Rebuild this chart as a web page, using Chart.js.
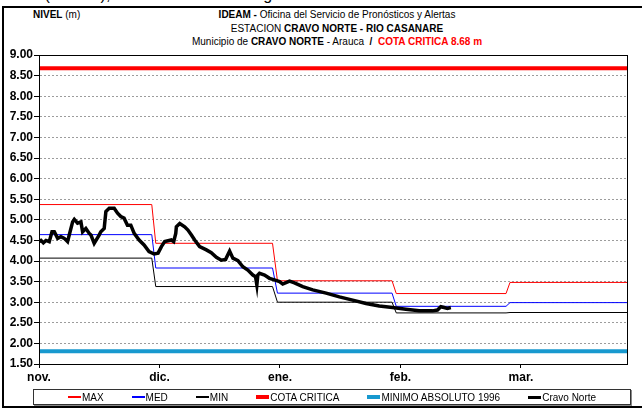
<!DOCTYPE html>
<html>
<head>
<meta charset="utf-8">
<script src="https://cdn.jsdelivr.net/npm/chart.js@4.4.1/dist/chart.umd.min.js"></script>
<style>
  html, body { margin: 0; padding: 0; background: #fff; }
  #wrap { position: relative; width: 642px; height: 408px; overflow: hidden; }
  #texto { position: absolute; left: 1px; top: -13px; font: 16px "Liberation Sans", Arial, sans-serif; line-height: 16px; white-space: nowrap; }
  #marco { position: absolute; left: 2px; top: 6px; width: 700px; height: 398px; border: 2px solid #000; }
  #nivel { position: absolute; left: 33px; top: 9px; font: 10px "Liberation Sans Narrow", "Arial Narrow", sans-serif; }
  #titulo { position: absolute; left: 0; width: 674px; top: 8px; text-align: center;
            font: 10px "Liberation Sans Narrow", "Arial Narrow", sans-serif; line-height: 13.5px; }
  #titulo .rojo { color: #ff0000; font-weight: bold; }
  #leyenda { position: absolute; left: 33px; top: 389px; width: 596px; height: 14px; border: 1px solid #333;
             box-shadow: 1px 1px 0 #888; display: flex; justify-content: center; align-items: center; gap: 28px;
             font: 10px "Liberation Sans Narrow", "Arial Narrow", sans-serif; }
  #leyenda .item { display: flex; align-items: center; white-space: nowrap; }
  #leyenda .linea { display: inline-block; width: 13px; height: 0; margin-right: 1px; }
  canvas { position: absolute; left: 0; top: 0; }
</style>
</head>
<body>
<div id="wrap">
  <div id="texto">Norte (Arauca), con valores en el rango de los mínimos históricos.</div>
  <div id="marco"></div>
  <div id="nivel"><b>NIVEL</b> (m)</div>
  <div id="titulo">
    <div><b>IDEAM -</b> Oficina del Servicio de Pronósticos y Alertas</div>
    <div>ESTACION <b>CRAVO NORTE - RIO CASANARE</b></div>
    <div>Municipio de <b>CRAVO NORTE</b> - Arauca&nbsp; <b>/</b>&nbsp; <span class="rojo">COTA CRITICA 8.68 m</span></div>
  </div>
  <canvas id="grafico" width="642" height="408"></canvas>
  <div id="leyenda"></div>
</div>
<script>
// eje x en meses contados desde el 1 de noviembre
const meses = ['nov.', 'dic.', 'ene.', 'feb.', 'mar.'];
const finEje = 4.88;

// niveles historicos por mes (MAX / MED / MIN), con el salto al cambiar de mes
const escalonPos = [0, 0.936, 0.969, 1.938, 1.979, 2.930, 2.965, 3.876, 3.909, 4.88];
const nivelMax = [5.37, 5.37, 4.43, 4.43, 3.52, 3.52, 3.21, 3.21, 3.48, 3.48];
const nivelMed = [4.64, 4.64, 3.83, 3.83, 3.22, 3.22, 2.90, 2.90, 2.99, 2.99];
const nivelMin = [4.07, 4.07, 3.38, 3.38, 3.00, 3.00, 2.74, 2.74, 2.75, 2.75];

const cotaCritica = 8.68;
const minimoAbsoluto = 1.81;

// lecturas de la estacion Cravo Norte
const lecturaPos = [
  0.000, 0.017, 0.036, 0.058, 0.085, 0.108, 0.127, 0.155, 0.182, 0.210,
  0.237, 0.251, 0.279, 0.293, 0.320, 0.348, 0.362, 0.389, 0.417, 0.431,
  0.458, 0.499, 0.513, 0.541, 0.555, 0.583, 0.624, 0.652, 0.679, 0.706,
  0.734, 0.762, 0.790, 0.831, 0.872, 0.913, 0.955, 0.988, 1.016, 1.043,
  1.071, 1.099, 1.118, 1.135, 1.140, 1.168, 1.209, 1.236, 1.265, 1.292,
  1.333, 1.389, 1.430, 1.472, 1.513, 1.549, 1.582, 1.609, 1.651, 1.692,
  1.733, 1.775, 1.797, 1.808, 1.816, 1.830, 1.872, 1.913, 1.954, 1.996,
  2.023, 2.079, 2.120, 2.189, 2.272, 2.383, 2.493, 2.603, 2.714, 2.824,
  2.934, 3.045, 3.155, 3.266, 3.307, 3.335, 3.362, 3.390, 3.418
];
const lecturaNivel = [
  4.47, 4.50, 4.44, 4.50, 4.47, 4.71, 4.71, 4.55, 4.59, 4.55,
  4.47, 4.63, 4.95, 5.01, 4.92, 4.95, 4.71, 4.79, 4.67, 4.63,
  4.43, 4.63, 4.71, 4.79, 5.20, 5.28, 5.28, 5.16, 5.08, 5.04,
  4.87, 4.87, 4.67, 4.51, 4.39, 4.23, 4.17, 4.19, 4.35, 4.47,
  4.49, 4.51, 4.47, 4.67, 4.83, 4.91, 4.83, 4.75, 4.63, 4.51,
  4.35, 4.27, 4.20, 4.09, 4.02, 4.04, 4.24, 4.07, 4.01, 3.86,
  3.78, 3.66, 3.62, 3.42, 3.66, 3.70, 3.66, 3.58, 3.54, 3.50,
  3.44, 3.51, 3.47, 3.38, 3.30, 3.22, 3.13, 3.05, 2.97, 2.91,
  2.87, 2.83, 2.79, 2.79, 2.81, 2.89, 2.87, 2.85, 2.87
];

function puntos(xs, ys) {
  return xs.map((x, i) => ({ x: x, y: ys[i] }));
}

const datasets = [
  { label: 'MAX', data: puntos(escalonPos, nivelMax), borderColor: '#ff0000', borderWidth: 1 },
  { label: 'MED', data: puntos(escalonPos, nivelMed), borderColor: '#0000ff', borderWidth: 1 },
  { label: 'MIN', data: puntos(escalonPos, nivelMin), borderColor: '#000000', borderWidth: 1 },
  { label: 'COTA CRITICA', data: [{ x: 0, y: cotaCritica }, { x: finEje, y: cotaCritica }], borderColor: '#ff0000', borderWidth: 4 },
  { label: 'MINIMO ABSOLUTO 1996', data: [{ x: 0, y: minimoAbsoluto }, { x: finEje, y: minimoAbsoluto }], borderColor: '#1899cf', borderWidth: 4 },
  { label: 'Cravo Norte', data: puntos(lecturaPos, lecturaNivel), borderColor: '#000000', borderWidth: 3.5, order: -1 }
];
datasets.forEach(d => { d.pointRadius = 0; d.tension = 0; d.fill = false; });

// borde superior y derecho del area de trazado
const bordeArea = {
  id: 'bordeArea',
  afterDraw(chart) {
    const a = chart.chartArea;
    const ctx = chart.ctx;
    ctx.save();
    ctx.strokeStyle = '#000';
    ctx.lineWidth = 1;
    ctx.strokeRect(Math.round(a.left) + 0.5, Math.round(a.top) + 0.5, Math.round(a.right - a.left), Math.round(a.bottom - a.top));
    ctx.restore();
  }
};

Chart.defaults.font.family = '"Liberation Sans", Arial, sans-serif';
Chart.defaults.color = '#000';

const chart = new Chart(document.getElementById('grafico'), {
  type: 'line',
  data: { datasets: datasets },
  options: {
    responsive: false,
    animation: false,
    layout: { padding: { top: 55, right: 15, left: 0, bottom: 24 } },
    plugins: { legend: { display: false }, tooltip: { enabled: false } },
    scales: {
      x: {
        type: 'linear',
        min: 0,
        max: finEje,
        afterFit(scale) { scale.height = 20; },
        afterBuildTicks(scale) { scale.ticks = meses.map((m, i) => ({ value: i })); },
        ticks: {
          autoSkip: false,
          maxRotation: 0,
          padding: 2,
          font: { family: '"Liberation Sans Narrow", "Arial Narrow", sans-serif', size: 12, weight: 'bold' },
          callback: v => meses[v]
        },
        grid: { drawOnChartArea: false, tickLength: 4, tickColor: '#000' },
        border: { color: '#000' }
      },
      y: {
        min: 1.5,
        max: 9,
        afterFit(scale) { scale.width = 39; },
        ticks: {
          stepSize: 0.5,
          padding: 1,
          font: { size: 12, weight: 'bold' },
          callback: v => v.toFixed(2)
        },
        grid: { color: '#9c9c9c', tickColor: '#000', tickLength: 5, tickBorderDash: [] },
        border: { color: '#000', dash: [2, 2] }
      }
    }
  },
  plugins: [bordeArea]
});

// leyenda armada con las series del grafico
const leyenda = document.getElementById('leyenda');
chart.data.datasets.forEach(d => {
  const item = document.createElement('span');
  item.className = 'item';
  const linea = document.createElement('span');
  linea.className = 'linea';
  linea.style.borderTop = Math.max(2, Math.min(d.borderWidth, 4)) + 'px solid ' + d.borderColor;
  item.appendChild(linea);
  item.appendChild(document.createTextNode(d.label));
  leyenda.appendChild(item);
});
</script>
</body>
</html>
